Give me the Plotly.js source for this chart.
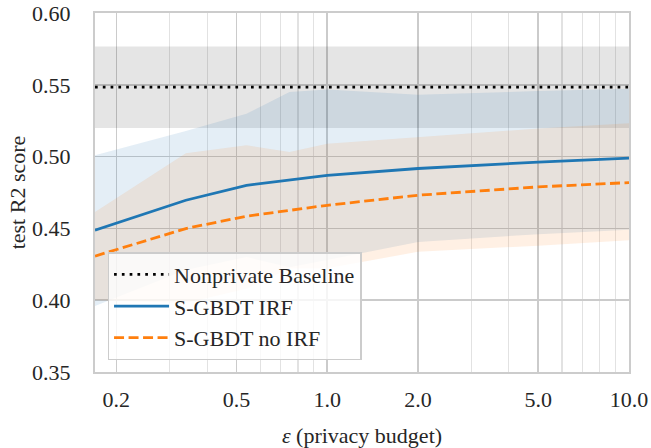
<!DOCTYPE html>
<html>
<head>
<meta charset="utf-8">
<script src="https://cdn.plot.ly/plotly-3.0.1.min.js"></script>
<style>html,body{margin:0;padding:0;background:#fff;}#chart{width:651px;height:448px;}</style>
</head>
<body>
<div id="chart"></div>
<script>
// ---- data ----
const eps = [0.17, 0.34, 0.54, 0.75, 1.0, 2.0, 5.0, 10.0];

const irfMean = [0.4487, 0.4696, 0.4800, 0.4840, 0.4870, 0.4917, 0.4962, 0.4990];
const irfLow  = [0.396, 0.421, 0.430, 0.423, 0.428, 0.4406, 0.446, 0.449];
const irfHigh = [0.501, 0.5178, 0.5299, 0.5449, 0.5468, 0.5431, 0.5456, 0.5473];

const noIrfMean = [0.4307, 0.4499, 0.4585, 0.4627, 0.4661, 0.4731, 0.4789, 0.4819];
const noIrfLow  = [0.400, 0.398, 0.408, 0.422, 0.4223, 0.4337, 0.438, 0.4418];
const noIrfHigh = [0.4615, 0.5023, 0.5079, 0.5032, 0.509, 0.5136, 0.5195, 0.5232];

const baselineMean = 0.5484;
const baselineLow = 0.5199;
const baselineHigh = 0.5767;

const seriesNames = ["Nonprivate Baseline", "S-GBDT IRF", "S-GBDT no IRF"];

const xTickVals = [0.2, 0.5, 1.0, 2.0, 5.0, 10.0];
const xTickText = ["0.2", "0.5", "1.0", "2.0", "5.0", "10.0"];
const xMinorVals = [0.3, 0.4, 0.6, 0.7, 0.8, 0.9, 3, 4, 6, 7, 8, 9];
const yTickVals = [0.35, 0.40, 0.45, 0.50, 0.55, 0.60];
const yTickText = ["0.35", "0.40", "0.45", "0.50", "0.55", "0.60"];

// ---- traces ----
const FONT = "Liberation Serif";
const FS = 22;
const TXT = "#262626";
const blue = "#1f77b4", orange = "#ff7f0e";
const constArr = v => eps.map(() => v);

const traces = [
  {x: eps, y: constArr(baselineLow), mode: "lines", line: {width: 0}, hoverinfo: "skip", showlegend: false},
  {x: eps, y: constArr(baselineHigh), mode: "lines", line: {width: 0}, fill: "tonexty", fillcolor: "rgba(0,0,0,0.10)", hoverinfo: "skip", showlegend: false},
  {x: eps, y: irfLow, mode: "lines", line: {width: 0}, hoverinfo: "skip", showlegend: false},
  {x: eps, y: irfHigh, mode: "lines", line: {width: 0}, fill: "tonexty", fillcolor: "rgba(31,119,180,0.12)", hoverinfo: "skip", showlegend: false},
  {x: eps, y: noIrfLow, mode: "lines", line: {width: 0}, hoverinfo: "skip", showlegend: false},
  {x: eps, y: noIrfHigh, mode: "lines", line: {width: 0}, fill: "tonexty", fillcolor: "rgba(255,127,14,0.115)", hoverinfo: "skip", showlegend: false},
  {x: eps, y: constArr(baselineMean), mode: "lines", name: seriesNames[0], legendgroup: "a",
   line: {color: "#000000", width: 2.7, dash: "2.7px,5.1px"}},
  {x: eps, y: irfMean, mode: "lines", name: seriesNames[1], legendgroup: "b",
   line: {color: blue, width: 2.8}},
  {x: eps, y: noIrfMean, mode: "lines", name: seriesNames[2], legendgroup: "c",
   line: {color: orange, width: 2.8, dash: "10px,4.5px"}}
];

const layout = {
  width: 651, height: 448,
  margin: {l: 95, r: 22, t: 13, b: 76},
  paper_bgcolor: "#ffffff", plot_bgcolor: "#ffffff",
  font: {family: FONT, size: FS, color: TXT},
  showlegend: true,
  legend: {
    x: 0.0235, y: 0.033, xanchor: "left", yanchor: "bottom",
    bgcolor: "rgba(255,255,255,0.8)", bordercolor: "#cccccc", borderwidth: 1.5,
    font: {family: FONT, size: FS, color: TXT},
    itemwidth: 55, tracegroupgap: 0, traceorder: "grouped"
  },
  xaxis: {
    type: "log", range: [Math.log10(0.17), 1],
    tickmode: "array", tickvals: xTickVals, ticktext: xTickText,
    ticks: "", ticklabelstandoff: 7,
    showgrid: true, gridcolor: "#cbcbcb", gridwidth: 1.6,
    minor: {tickmode: "array", tickvals: xMinorVals, showgrid: true, gridcolor: "#e2e2e2", gridwidth: 1.1, ticks: ""},
    showline: true, mirror: true, linecolor: "#cccccc", linewidth: 2,
    zeroline: false,
    tickfont: {family: FONT, size: FS, color: TXT},
    title: {text: "<i>ε</i> (privacy budget)", font: {family: FONT, size: FS, color: TXT}, standoff: 16}
  },
  yaxis: {
    range: [0.35, 0.60],
    tickmode: "array", tickvals: yTickVals, ticktext: yTickText,
    ticks: "", ticklabelstandoff: 18,
    showgrid: true, gridcolor: "#cbcbcb", gridwidth: 1.6,
    showline: true, mirror: true, linecolor: "#cccccc", linewidth: 2,
    zeroline: false,
    tickfont: {family: FONT, size: FS, color: TXT},
    title: {text: "test R2 score", font: {family: FONT, size: FS, color: TXT}, standoff: 0}
  }
};

Plotly.newPlot("chart", traces, layout, {displayModeBar: false, staticPlot: true});
</script>
</body>
</html>
